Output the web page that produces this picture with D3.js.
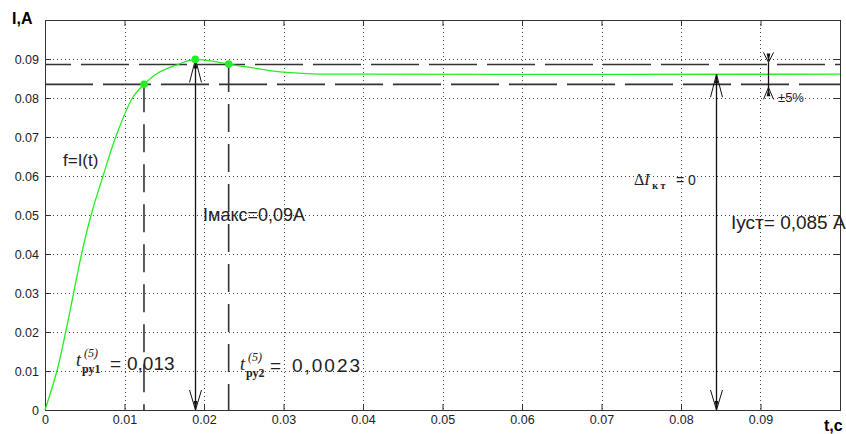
<!DOCTYPE html>
<html>
<head>
<meta charset="utf-8">
<script src="https://cdn.jsdelivr.net/npm/d3@7"></script>
<style>
  html, body { margin: 0; padding: 0; background: #fff; }
  svg { display: block; font-family: "Liberation Sans", Arial, sans-serif; }
</style>
</head>
<body>
<svg id="chart" width="846" height="434"></svg>
<script>
// transient response I(t)
const tData = [0, 0.0015, 0.0026, 0.0036, 0.0046, 0.0058, 0.0073, 0.0089, 0.0110, 0.01245,
               0.0141, 0.0166, 0.0189, 0.0231, 0.0296, 0.0337, 0.040, 0.1];
const iData = [0, 0.010, 0.020, 0.030, 0.040, 0.050, 0.060, 0.070, 0.080, 0.0835,
               0.0863, 0.0885, 0.0899, 0.0887, 0.0867, 0.0862, 0.0861, 0.0861];

// marked points: t_ry1, Imax, t_ry2
const markT = [0.01245, 0.0189, 0.0231];
const markI = [0.0835, 0.0899, 0.0887];

// ±5% band and steady value
const bandHi = 0.0886, bandLo = 0.0835;
const iSteady = 0.0861;
const tSteadyArrow = 0.0844;
const tBandArrow = 0.0909;

const xTicks = [0, 0.01, 0.02, 0.03, 0.04, 0.05, 0.06, 0.07, 0.08, 0.09];
const yTicks = [0, 0.01, 0.02, 0.03, 0.04, 0.05, 0.06, 0.07, 0.08, 0.09];
const gridTicks = [0.01, 0.02, 0.03, 0.04, 0.05, 0.06, 0.07, 0.08, 0.09];

const svg = d3.select("#chart");
const x = d3.scaleLinear().domain([0, 0.1]).range([45, 840]);
const y = d3.scaleLinear().domain([0, 0.1]).range([410, 20]);

// grid
const grid = svg.append("g").attr("stroke", "#444").attr("stroke-dasharray", "1,3");
grid.selectAll("line.v").data(gridTicks).join("line")
    .attr("class", "v")
    .attr("x1", d => Math.round(x(d)) + 0.5).attr("x2", d => Math.round(x(d)) + 0.5)
    .attr("y1", y(0.1)).attr("y2", y(0));
grid.selectAll("line.h").data(gridTicks).join("line")
    .attr("class", "h")
    .attr("y1", d => Math.round(y(d)) + 0.5).attr("y2", d => Math.round(y(d)) + 0.5)
    .attr("x1", x(0)).attr("x2", x(0.1));

// axes with inward ticks
const fmt = d => d === 0 ? "0" : d3.format(".2f")(d);
function styleAxis(g) {
  g.select(".domain").remove();
  g.selectAll(".tick line").attr("stroke", "#333");
  g.selectAll(".tick text").attr("fill", "#222").style("font-size", "12.5px")
    .style("font-family", "\"Liberation Sans\", Arial, sans-serif");
}
svg.append("g").attr("transform", `translate(${x(0)},0)`)
  .call(d3.axisLeft(y).tickValues(yTicks).tickFormat(fmt).tickSizeInner(-6).tickSizeOuter(0).tickPadding(6))
  .call(styleAxis);
svg.append("g").attr("transform", `translate(0,${y(0)})`)
  .call(d3.axisBottom(x).tickValues(xTicks).tickFormat(fmt).tickSizeInner(-6).tickSizeOuter(0).tickPadding(5))
  .call(styleAxis);
svg.append("g").attr("transform", `translate(${x(0.1)},0)`)
  .call(d3.axisRight(y).tickValues(gridTicks).tickFormat("").tickSizeInner(-6).tickSizeOuter(0))
  .call(styleAxis);
svg.append("g").attr("transform", `translate(0,${y(0.1)})`)
  .call(d3.axisTop(x).tickValues(gridTicks).tickFormat("").tickSizeInner(-6).tickSizeOuter(0))
  .call(styleAxis);

svg.append("rect")
  .attr("x", x(0) + 0.5).attr("y", y(0.1) + 0.5)
  .attr("width", x(0.1) - x(0)).attr("height", y(0) - y(0.1))
  .attr("fill", "none").attr("stroke", "#333");

// dashed band lines
const dash = svg.append("g").attr("stroke", "#333").attr("stroke-width", 1.6).attr("fill", "none");
[bandHi, bandLo].forEach((v, k) => {
  dash.append("line")
    .attr("x1", x(0)).attr("x2", x(0.1))
    .attr("y1", y(v)).attr("y2", y(v))
    .attr("stroke-dasharray", "48,10")
    .attr("stroke-dashoffset", k ? 0 : 22);
});
// dashed verticals at t_ry1, t_ry2
[0, 2].forEach(k => {
  dash.append("line")
    .attr("x1", x(markT[k])).attr("x2", x(markT[k]))
    .attr("y1", y(markI[k])).attr("y2", y(0))
    .attr("stroke-dasharray", "28,12");
});

// curve
svg.append("path")
  .datum(tData.map((t, i) => [t, iData[i]]))
  .attr("fill", "none").attr("stroke", "#22ee22").attr("stroke-width", 1.3)
  .attr("d", d3.line().x(d => x(d[0])).y(d => y(d[1])).curve(d3.curveCatmullRom.alpha(0.5)));

// arrows
const arr = svg.append("g").attr("stroke", "#111").attr("fill", "none");
function head(px, py, dir, len, half) {
  // dir = 1: tip points up (base below), dir = -1: tip points down
  arr.append("path")
    .attr("d", `M${px - half},${py + dir * len}L${px},${py}L${px + half},${py + dir * len}`);
  arr.append("path").attr("fill", "#111").attr("stroke", "none")
    .attr("d", `M${px - 1.8},${py + dir * 9}L${px},${py}L${px + 1.8},${py + dir * 9}Z`);
}
function dblArrow(t, vTop, vBot) {
  const px = Math.round(x(t)) + 0.5;
  arr.append("line").attr("x1", px).attr("x2", px)
    .attr("y1", y(vTop)).attr("y2", y(vBot)).attr("stroke-width", 1.3);
  head(px, y(vTop), 1, 23, 6);
  head(px, y(vBot), -1, 20, 6);
}
dblArrow(markT[1], markI[1], 0);
dblArrow(tSteadyArrow, iSteady, 0);

// ±5% arrow
{
  const px = Math.round(x(tBandArrow)) + 0.5;
  arr.append("line").attr("x1", px).attr("x2", px)
    .attr("y1", y(bandHi) - 2).attr("y2", y(bandLo) + 4).attr("stroke-width", 1.3);
  head(px, y(bandHi) - 2, -1, 10, 5);
  head(px, y(bandLo) + 3, 1, 12, 5);
}

// marker dots
svg.append("g").selectAll("circle").data(markT).join("circle")
  .attr("cx", d => x(d)).attr("cy", (d, i) => y(markI[i]))
  .attr("r", 3.8).attr("fill", "#22ee22");

// labels
const txt = svg.append("g").attr("fill", "#222");
txt.append("text").attr("x", 12).attr("y", 24)
  .style("font-size", "16px").style("font-weight", "bold").attr("fill", "#000").text("I,A");
txt.append("text").attr("x", 824).attr("y", 431)
  .style("font-size", "16px").style("font-weight", "bold").attr("fill", "#000").text("t,c");
txt.append("text").attr("x", 63).attr("y", 166).style("font-size", "17px").text("f=I(t)");
txt.append("text").attr("x", 203).attr("y", 221).style("font-size", "18px").text("Iмакс=0,09A");
txt.append("text").attr("x", 731).attr("y", 229).style("font-size", "19px").text("Iуст= 0,085 A");
txt.append("text").attr("x", 778).attr("y", 102).style("font-size", "13px").text("±5%");

const serif = "\"Liberation Serif\", \"Times New Roman\", serif";
function tLabel(x0, yb, sub, eqX, rest, restX, restY, restLen) {
  txt.append("text").attr("x", x0).attr("y", yb)
    .style("font-family", serif).style("font-style", "italic").style("font-size", "18px").text("t");
  txt.append("text").attr("x", x0 + 8).attr("y", yb - 9)
    .style("font-family", serif).style("font-style", "italic").style("font-size", "12px").text("(5)");
  txt.append("text").attr("x", x0 + 6).attr("y", yb + 7)
    .style("font-family", serif).style("font-weight", "bold").style("font-size", "12px").text(sub);
  txt.append("text").attr("x", eqX).attr("y", restY).style("font-size", "19px").text("=");
  const r = txt.append("text").attr("x", restX).attr("y", restY).style("font-size", "19px").text(rest);
  if (restLen) r.attr("textLength", restLen).attr("lengthAdjust", "spacing");
}
tLabel(76, 366, "ру1", 110, "0,013", 127, 370);
tLabel(240, 370, "ру2", 270, "0,0023", 292, 372, 68);

// ΔI_кт = 0
txt.append("text").attr("x", 634).attr("y", 185)
  .style("font-family", serif).style("font-size", "16px")
  .call(t => {
    t.append("tspan").text("Δ");
    t.append("tspan").style("font-style", "italic").text("I");
    t.append("tspan").attr("dy", 4).style("font-weight", "bold").style("font-size", "10px").text(" к т");
  });
txt.append("text").attr("x", 676).attr("y", 185).style("font-size", "14px").text("= 0");
</script>
</body>
</html>
